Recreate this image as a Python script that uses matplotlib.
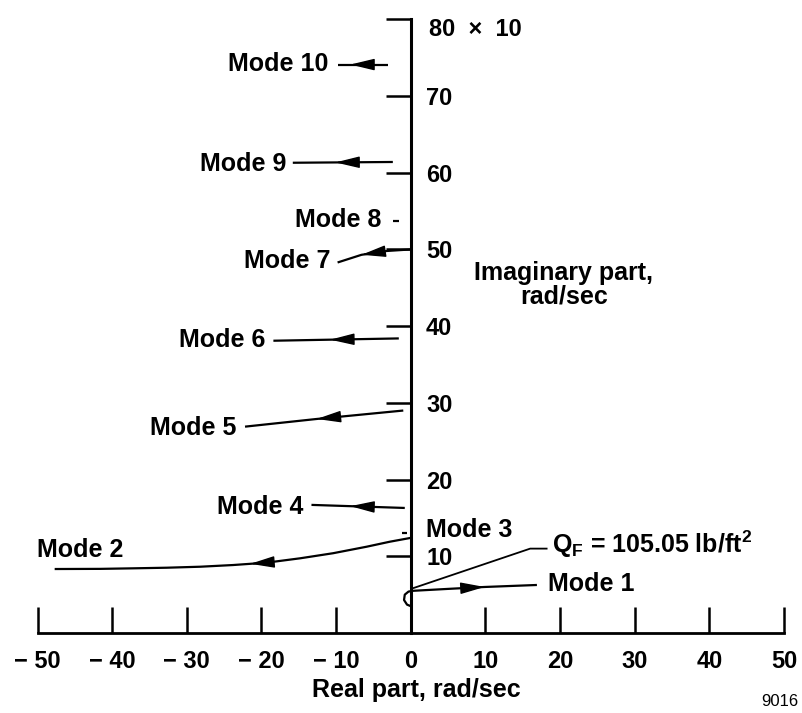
import numpy as np
import matplotlib
matplotlib.use("Agg")
import matplotlib.pyplot as plt
from matplotlib.patches import FancyArrowPatch

plt.rcParams["font.family"] = ["Liberation Sans", "DejaVu Sans"]
plt.rcParams["font.weight"] = "bold"
plt.rcParams["mathtext.fontset"] = "custom"
plt.rcParams["mathtext.bf"] = "Liberation Sans:bold"
plt.rcParams["mathtext.rm"] = "Liberation Sans:bold"
plt.rcParams["mathtext.default"] = "bf"

# Axis ticks
real_ticks = [-50, -40, -30, -20, -10, 0, 10, 20, 30, 40, 50]
real_labels = ["\u2212 50", "\u2212 40", "\u2212 30", "\u2212 20", "\u2212 10",
               "0", "10", "20", "30", "40", "50"]
imag_ticks = [10, 20, 30, 40, 50, 60, 70, 80]
imag_labels = ["10", "20", "30", "40", "50", "60", "70", ""]

# Root-locus branches (real part, imaginary part x 10 rad/sec)
mode1_re = [0.0, -0.5, -0.9, -0.8, -0.3, 0.3, 5.0, 9.9, 16.9]
mode1_im = [3.5, 3.7, 4.3, 5.0, 5.4, 5.5, 5.75, 6.0, 6.26]
mode2_re = [0.0, -2.8, -5.9, -10.4, -14.8, -19.3, -23.8, -28.2, -32.7, -37.2, -41.6, -47.7]
mode2_im = [12.4, 11.9, 11.25, 10.4, 9.74, 9.17, 8.86, 8.64, 8.51, 8.43, 8.36, 8.34]
mode3_re = [-0.5, -1.2]
mode3_im = [13.0, 13.0]
mode4_re = [-0.8, -13.3]
mode4_im = [16.3, 16.7]
mode5_re = [-1.0, -12.6, -22.2]
mode5_im = [29.0, 27.9, 26.9]
mode6_re = [-1.6, -18.4]
mode6_im = [38.4, 38.1]
mode7_re = [0.0, -3.2, -6.6, -9.8]
mode7_im = [50.0, 49.8, 49.3, 48.3]
mode8_re = [-1.6, -2.4]
mode8_im = [53.7, 53.7]
mode9_re = [-2.4, -15.8]
mode9_im = [61.4, 61.3]
mode10_re = [-3.05, -9.75]
mode10_im = [74.1, 74.1]

# Arrowhead tips along each branch (real-part position)
arrow_tips = {
    "1": 9.9, "2": -21.5, "4": -8.1, "5": -12.6,
    "6": -10.8, "7": -6.6, "9": -10.1, "10": -8.1,
}

# Flutter dynamic pressure leader line
qf_re = [0.4, 16.0, 18.2]
qf_im = [5.87, 11.0, 11.0]

fig = plt.figure(figsize=(8.02, 7.13), dpi=100)
ax = fig.add_axes([37.5 / 802, 80 / 713, 746.5 / 802, 613.7 / 713])
ax.set_xlim(-50, 50)
ax.set_ylim(0, 80)

for side in ("left", "top"):
    ax.spines[side].set_visible(False)
ax.spines["right"].set_position(("data", 0))
ax.spines["right"].set_linewidth(2.2)
ax.spines["bottom"].set_linewidth(2.0)

ax.set_xticks(real_ticks)
ax.set_xticklabels(real_labels)
ax.yaxis.set_ticks_position("right")
ax.set_yticks(imag_ticks)
ax.set_yticklabels(imag_labels)
ax.tick_params(axis="x", direction="in", length=18.7, width=1.8, pad=12, labelsize=17)
ax.tick_params(axis="y", direction="in", length=18, width=1.8, pad=11, labelsize=17)
ax.annotate("80  \u00d7  10", xy=(0, 80), xytext=(13, 1), textcoords="offset points",
            ha="left", va="top", fontsize=17, annotation_clip=False)

branches = {
    "1": (mode1_re, mode1_im), "2": (mode2_re, mode2_im), "3": (mode3_re, mode3_im),
    "4": (mode4_re, mode4_im), "5": (mode5_re, mode5_im), "6": (mode6_re, mode6_im),
    "7": (mode7_re, mode7_im), "8": (mode8_re, mode8_im), "9": (mode9_re, mode9_im),
    "10": (mode10_re, mode10_im),
}
for key, (re, im) in branches.items():
    ax.plot(re, im, color="black", lw=1.6, clip_on=False, solid_capstyle="butt")


def add_head(re, im, x_tip, backward):
    re = np.asarray(re, float)
    im = np.asarray(im, float)
    order = np.argsort(re)
    y_tip = np.interp(x_tip, re[order], im[order])
    x_back = x_tip + backward
    y_back = np.interp(x_back, re[order], im[order])
    arr = FancyArrowPatch((x_back, y_back), (x_tip, y_tip),
                          arrowstyle="-|>,head_length=1.5,head_width=0.36",
                          mutation_scale=10, shrinkA=0, shrinkB=0,
                          color="black", lw=1.0, clip_on=False)
    ax.add_patch(arr)


for key, tip in arrow_tips.items():
    re, im = branches[key]
    add_head(re, im, tip, -2.5 if key == "1" else 2.5)

ax.plot(qf_re, qf_im, color="black", lw=1.3, clip_on=False)

fs = 18
ax.text(-11.0, 74.2, "Mode 10", ha="right", va="center", fontsize=fs)
ax.text(-16.6, 61.1, "Mode 9", ha="right", va="center", fontsize=fs)
ax.text(-3.9, 53.8, "Mode 8", ha="right", va="center", fontsize=fs)
ax.text(-10.8, 48.5, "Mode 7", ha="right", va="center", fontsize=fs)
ax.text(-19.5, 38.2, "Mode 6", ha="right", va="center", fontsize=fs)
ax.text(-23.3, 26.7, "Mode 5", ha="right", va="center", fontsize=fs)
ax.text(-14.4, 16.4, "Mode 4", ha="right", va="center", fontsize=fs)
ax.text(2.1, 13.4, "Mode 3", ha="left", va="center", fontsize=fs)
ax.text(-50.1, 10.8, "Mode 2", ha="left", va="center", fontsize=fs, clip_on=False)
ax.text(18.4, 6.4, "Mode 1", ha="left", va="center", fontsize=fs)
ax.text(18.9, 10.4, "Q$_F$ = 105.05 lb/ft$^2$", ha="left", va="baseline", fontsize=fs)

ax.text(20.5, 46.0, "Imaginary part,", ha="center", va="baseline", fontsize=fs)
ax.text(20.5, 43.0, "rad/sec", ha="center", va="baseline", fontsize=fs)
ax.text(0.8, -7.4, "Real part, rad/sec", ha="center", va="center", fontsize=fs,
        clip_on=False)

fig.text(798 / 802, 1 - 701.7 / 713, "9016", ha="right", va="center",
         fontsize=12, fontweight="normal")

fig.savefig("out.png", dpi=100, facecolor="white")
